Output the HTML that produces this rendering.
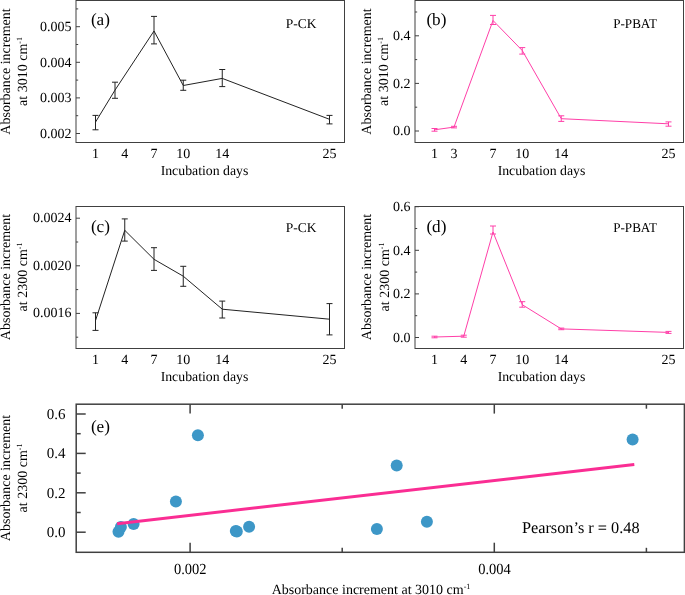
<!DOCTYPE html><html><head><meta charset="utf-8"><style>html,body{margin:0;padding:0;background:#fff;width:685px;height:595px;overflow:hidden}svg{display:block;will-change:transform}text{font-family:"Liberation Serif",serif;fill:#000;text-rendering:geometricPrecision}</style></head><body>
<svg width="685" height="595" viewBox="0 0 685 595">
<rect width="685" height="595" fill="#fff"/>
<rect x="76.00" y="0.50" width="268.50" height="142.00" fill="none" stroke="#404040" stroke-width="1"/>
<line x1="76.00" y1="133.50" x2="80.00" y2="133.50" stroke="#404040" stroke-width="1" />
<text x="71.60" y="137.90" font-size="14" text-anchor="end" >0.002</text>
<line x1="76.00" y1="97.90" x2="80.00" y2="97.90" stroke="#404040" stroke-width="1" />
<text x="71.60" y="102.30" font-size="14" text-anchor="end" >0.003</text>
<line x1="76.00" y1="62.30" x2="80.00" y2="62.30" stroke="#404040" stroke-width="1" />
<text x="71.60" y="66.70" font-size="14" text-anchor="end" >0.004</text>
<line x1="76.00" y1="26.70" x2="80.00" y2="26.70" stroke="#404040" stroke-width="1" />
<text x="71.60" y="31.10" font-size="14" text-anchor="end" >0.005</text>
<line x1="76.00" y1="115.70" x2="78.20" y2="115.70" stroke="#404040" stroke-width="1" />
<line x1="76.00" y1="80.10" x2="78.20" y2="80.10" stroke="#404040" stroke-width="1" />
<line x1="76.00" y1="44.50" x2="78.20" y2="44.50" stroke="#404040" stroke-width="1" />
<line x1="76.00" y1="8.90" x2="78.20" y2="8.90" stroke="#404040" stroke-width="1" />
<text x="95.50" y="158.00" font-size="14" text-anchor="middle" >1</text>
<text x="124.75" y="158.00" font-size="14" text-anchor="middle" >4</text>
<text x="154.00" y="158.00" font-size="14" text-anchor="middle" >7</text>
<text x="183.25" y="158.00" font-size="14" text-anchor="middle" >10</text>
<text x="222.25" y="158.00" font-size="14" text-anchor="middle" >14</text>
<text x="329.50" y="158.00" font-size="14" text-anchor="middle" >25</text>
<polyline points="95.50,122.10 115.00,90.10 154.00,31.00 183.25,85.50 222.25,78.40 329.50,119.30" fill="none" stroke="#222" stroke-width="1"/>
<line x1="95.50" y1="115.40" x2="95.50" y2="129.80" stroke="#222" stroke-width="1" />
<line x1="92.50" y1="115.40" x2="98.50" y2="115.40" stroke="#222" stroke-width="1" />
<line x1="92.50" y1="129.80" x2="98.50" y2="129.80" stroke="#222" stroke-width="1" />
<line x1="115.00" y1="82.20" x2="115.00" y2="98.30" stroke="#222" stroke-width="1" />
<line x1="112.00" y1="82.20" x2="118.00" y2="82.20" stroke="#222" stroke-width="1" />
<line x1="112.00" y1="98.30" x2="118.00" y2="98.30" stroke="#222" stroke-width="1" />
<line x1="154.00" y1="16.40" x2="154.00" y2="43.90" stroke="#222" stroke-width="1" />
<line x1="151.00" y1="16.40" x2="157.00" y2="16.40" stroke="#222" stroke-width="1" />
<line x1="151.00" y1="43.90" x2="157.00" y2="43.90" stroke="#222" stroke-width="1" />
<line x1="183.25" y1="80.20" x2="183.25" y2="90.30" stroke="#222" stroke-width="1" />
<line x1="180.25" y1="80.20" x2="186.25" y2="80.20" stroke="#222" stroke-width="1" />
<line x1="180.25" y1="90.30" x2="186.25" y2="90.30" stroke="#222" stroke-width="1" />
<line x1="222.25" y1="69.50" x2="222.25" y2="86.60" stroke="#222" stroke-width="1" />
<line x1="219.25" y1="69.50" x2="225.25" y2="69.50" stroke="#222" stroke-width="1" />
<line x1="219.25" y1="86.60" x2="225.25" y2="86.60" stroke="#222" stroke-width="1" />
<line x1="329.50" y1="115.40" x2="329.50" y2="123.90" stroke="#222" stroke-width="1" />
<line x1="326.50" y1="115.40" x2="332.50" y2="115.40" stroke="#222" stroke-width="1" />
<line x1="326.50" y1="123.90" x2="332.50" y2="123.90" stroke="#222" stroke-width="1" />
<text x="90.90" y="25.40" font-size="17.2" text-anchor="start" >(a)</text>
<text x="285.80" y="27.60" font-size="13.5" text-anchor="start" >P-CK</text>
<text x="204.50" y="174.50" font-size="13.8" text-anchor="middle" >Incubation days</text>
<text transform="translate(10.20,71.50) rotate(-90)" font-size="14" text-anchor="middle">Absorbance increment</text>
<text transform="translate(27.00,71.50) rotate(-90)" font-size="14" text-anchor="middle">at 3010 cm<tspan font-size="8" dy="-5">-1</tspan></text>
<rect x="415.00" y="0.50" width="268.50" height="142.00" fill="none" stroke="#404040" stroke-width="1"/>
<line x1="415.00" y1="131.00" x2="419.00" y2="131.00" stroke="#404040" stroke-width="1" />
<text x="410.60" y="135.30" font-size="14" text-anchor="end" >0.0</text>
<line x1="415.00" y1="83.40" x2="419.00" y2="83.40" stroke="#404040" stroke-width="1" />
<text x="410.60" y="87.70" font-size="14" text-anchor="end" >0.2</text>
<line x1="415.00" y1="35.80" x2="419.00" y2="35.80" stroke="#404040" stroke-width="1" />
<text x="410.60" y="40.10" font-size="14" text-anchor="end" >0.4</text>
<line x1="415.00" y1="107.20" x2="417.20" y2="107.20" stroke="#404040" stroke-width="1" />
<line x1="415.00" y1="59.60" x2="417.20" y2="59.60" stroke="#404040" stroke-width="1" />
<line x1="415.00" y1="12.00" x2="417.20" y2="12.00" stroke="#404040" stroke-width="1" />
<text x="434.50" y="158.00" font-size="14" text-anchor="middle" >1</text>
<text x="454.00" y="158.00" font-size="14" text-anchor="middle" >3</text>
<text x="493.00" y="158.00" font-size="14" text-anchor="middle" >7</text>
<text x="522.25" y="158.00" font-size="14" text-anchor="middle" >10</text>
<text x="561.25" y="158.00" font-size="14" text-anchor="middle" >14</text>
<text x="668.50" y="158.00" font-size="14" text-anchor="middle" >25</text>
<polyline points="434.50,129.80 454.00,127.10 493.00,20.50 522.25,50.50 561.25,118.70 668.50,123.80" fill="none" stroke="#ff3fa8" stroke-width="1"/>
<line x1="434.50" y1="128.50" x2="434.50" y2="131.20" stroke="#ff3fa8" stroke-width="1" />
<line x1="431.50" y1="128.50" x2="437.50" y2="128.50" stroke="#ff3fa8" stroke-width="1" />
<line x1="431.50" y1="131.20" x2="437.50" y2="131.20" stroke="#ff3fa8" stroke-width="1" />
<line x1="454.00" y1="126.30" x2="454.00" y2="127.90" stroke="#ff3fa8" stroke-width="1" />
<line x1="451.00" y1="126.30" x2="457.00" y2="126.30" stroke="#ff3fa8" stroke-width="1" />
<line x1="451.00" y1="127.90" x2="457.00" y2="127.90" stroke="#ff3fa8" stroke-width="1" />
<line x1="493.00" y1="15.40" x2="493.00" y2="24.50" stroke="#ff3fa8" stroke-width="1" />
<line x1="490.00" y1="15.40" x2="496.00" y2="15.40" stroke="#ff3fa8" stroke-width="1" />
<line x1="490.00" y1="24.50" x2="496.00" y2="24.50" stroke="#ff3fa8" stroke-width="1" />
<line x1="522.25" y1="47.60" x2="522.25" y2="54.10" stroke="#ff3fa8" stroke-width="1" />
<line x1="519.25" y1="47.60" x2="525.25" y2="47.60" stroke="#ff3fa8" stroke-width="1" />
<line x1="519.25" y1="54.10" x2="525.25" y2="54.10" stroke="#ff3fa8" stroke-width="1" />
<line x1="561.25" y1="115.80" x2="561.25" y2="121.40" stroke="#ff3fa8" stroke-width="1" />
<line x1="558.25" y1="115.80" x2="564.25" y2="115.80" stroke="#ff3fa8" stroke-width="1" />
<line x1="558.25" y1="121.40" x2="564.25" y2="121.40" stroke="#ff3fa8" stroke-width="1" />
<line x1="668.50" y1="121.90" x2="668.50" y2="126.20" stroke="#ff3fa8" stroke-width="1" />
<line x1="665.50" y1="121.90" x2="671.50" y2="121.90" stroke="#ff3fa8" stroke-width="1" />
<line x1="665.50" y1="126.20" x2="671.50" y2="126.20" stroke="#ff3fa8" stroke-width="1" />
<text x="426.40" y="25.40" font-size="17.2" text-anchor="start" >(b)</text>
<text x="613.20" y="27.60" font-size="13.5" text-anchor="start" textLength="43.7" lengthAdjust="spacingAndGlyphs">P-PBAT</text>
<text x="541.50" y="174.50" font-size="13.8" text-anchor="middle" >Incubation days</text>
<text transform="translate(370.70,71.50) rotate(-90)" font-size="14" text-anchor="middle">Absorbance increment</text>
<text transform="translate(387.70,71.50) rotate(-90)" font-size="14" text-anchor="middle">at 3010 cm<tspan font-size="8" dy="-5">-1</tspan></text>
<rect x="76.00" y="206.50" width="268.50" height="142.00" fill="none" stroke="#404040" stroke-width="1"/>
<line x1="76.00" y1="313.40" x2="80.00" y2="313.40" stroke="#404040" stroke-width="1" />
<text x="71.60" y="317.20" font-size="14" text-anchor="end" >0.0016</text>
<line x1="76.00" y1="265.80" x2="80.00" y2="265.80" stroke="#404040" stroke-width="1" />
<text x="71.60" y="269.60" font-size="14" text-anchor="end" >0.0020</text>
<line x1="76.00" y1="218.20" x2="80.00" y2="218.20" stroke="#404040" stroke-width="1" />
<text x="71.60" y="222.00" font-size="14" text-anchor="end" >0.0024</text>
<line x1="76.00" y1="337.20" x2="78.20" y2="337.20" stroke="#404040" stroke-width="1" />
<line x1="76.00" y1="289.60" x2="78.20" y2="289.60" stroke="#404040" stroke-width="1" />
<line x1="76.00" y1="242.00" x2="78.20" y2="242.00" stroke="#404040" stroke-width="1" />
<text x="95.50" y="364.00" font-size="14" text-anchor="middle" >1</text>
<text x="124.75" y="364.00" font-size="14" text-anchor="middle" >4</text>
<text x="154.00" y="364.00" font-size="14" text-anchor="middle" >7</text>
<text x="183.25" y="364.00" font-size="14" text-anchor="middle" >10</text>
<text x="222.25" y="364.00" font-size="14" text-anchor="middle" >14</text>
<text x="329.50" y="364.00" font-size="14" text-anchor="middle" >25</text>
<polyline points="95.50,320.60 124.75,230.30 154.00,259.30 183.25,276.20 222.25,309.20 329.50,319.20" fill="none" stroke="#222" stroke-width="1"/>
<line x1="95.50" y1="312.80" x2="95.50" y2="330.40" stroke="#222" stroke-width="1" />
<line x1="92.50" y1="312.80" x2="98.50" y2="312.80" stroke="#222" stroke-width="1" />
<line x1="92.50" y1="330.40" x2="98.50" y2="330.40" stroke="#222" stroke-width="1" />
<line x1="124.75" y1="218.90" x2="124.75" y2="241.10" stroke="#222" stroke-width="1" />
<line x1="121.75" y1="218.90" x2="127.75" y2="218.90" stroke="#222" stroke-width="1" />
<line x1="121.75" y1="241.10" x2="127.75" y2="241.10" stroke="#222" stroke-width="1" />
<line x1="154.00" y1="247.70" x2="154.00" y2="270.40" stroke="#222" stroke-width="1" />
<line x1="151.00" y1="247.70" x2="157.00" y2="247.70" stroke="#222" stroke-width="1" />
<line x1="151.00" y1="270.40" x2="157.00" y2="270.40" stroke="#222" stroke-width="1" />
<line x1="183.25" y1="266.30" x2="183.25" y2="286.30" stroke="#222" stroke-width="1" />
<line x1="180.25" y1="266.30" x2="186.25" y2="266.30" stroke="#222" stroke-width="1" />
<line x1="180.25" y1="286.30" x2="186.25" y2="286.30" stroke="#222" stroke-width="1" />
<line x1="222.25" y1="301.10" x2="222.25" y2="318.00" stroke="#222" stroke-width="1" />
<line x1="219.25" y1="301.10" x2="225.25" y2="301.10" stroke="#222" stroke-width="1" />
<line x1="219.25" y1="318.00" x2="225.25" y2="318.00" stroke="#222" stroke-width="1" />
<line x1="329.50" y1="303.60" x2="329.50" y2="334.90" stroke="#222" stroke-width="1" />
<line x1="326.50" y1="303.60" x2="332.50" y2="303.60" stroke="#222" stroke-width="1" />
<line x1="326.50" y1="334.90" x2="332.50" y2="334.90" stroke="#222" stroke-width="1" />
<text x="90.90" y="231.70" font-size="17.2" text-anchor="start" >(c)</text>
<text x="285.80" y="232.10" font-size="13.5" text-anchor="start" >P-CK</text>
<text x="204.50" y="380.50" font-size="13.8" text-anchor="middle" >Incubation days</text>
<text transform="translate(10.20,277.00) rotate(-90)" font-size="14" text-anchor="middle">Absorbance increment</text>
<text transform="translate(27.00,277.00) rotate(-90)" font-size="14" text-anchor="middle">at 2300 cm<tspan font-size="8" dy="-5">-1</tspan></text>
<rect x="415.00" y="206.50" width="268.50" height="142.00" fill="none" stroke="#404040" stroke-width="1"/>
<line x1="415.00" y1="337.50" x2="419.00" y2="337.50" stroke="#404040" stroke-width="1" />
<text x="410.60" y="341.80" font-size="14" text-anchor="end" >0.0</text>
<line x1="415.00" y1="293.90" x2="419.00" y2="293.90" stroke="#404040" stroke-width="1" />
<text x="410.60" y="298.20" font-size="14" text-anchor="end" >0.2</text>
<line x1="415.00" y1="250.30" x2="419.00" y2="250.30" stroke="#404040" stroke-width="1" />
<text x="410.60" y="254.60" font-size="14" text-anchor="end" >0.4</text>
<line x1="415.00" y1="206.70" x2="419.00" y2="206.70" stroke="#404040" stroke-width="1" />
<text x="410.60" y="211.00" font-size="14" text-anchor="end" >0.6</text>
<line x1="415.00" y1="315.70" x2="417.20" y2="315.70" stroke="#404040" stroke-width="1" />
<line x1="415.00" y1="272.10" x2="417.20" y2="272.10" stroke="#404040" stroke-width="1" />
<line x1="415.00" y1="228.50" x2="417.20" y2="228.50" stroke="#404040" stroke-width="1" />
<text x="434.50" y="364.00" font-size="14" text-anchor="middle" >1</text>
<text x="463.75" y="364.00" font-size="14" text-anchor="middle" >4</text>
<text x="493.00" y="364.00" font-size="14" text-anchor="middle" >7</text>
<text x="522.25" y="364.00" font-size="14" text-anchor="middle" >10</text>
<text x="561.25" y="364.00" font-size="14" text-anchor="middle" >14</text>
<text x="668.50" y="364.00" font-size="14" text-anchor="middle" >25</text>
<polyline points="434.50,337.00 463.75,336.20 493.00,232.00 522.25,304.70 561.25,328.90 668.50,332.40" fill="none" stroke="#ff3fa8" stroke-width="1"/>
<line x1="434.50" y1="336.20" x2="434.50" y2="337.80" stroke="#ff3fa8" stroke-width="1" />
<line x1="431.50" y1="336.20" x2="437.50" y2="336.20" stroke="#ff3fa8" stroke-width="1" />
<line x1="431.50" y1="337.80" x2="437.50" y2="337.80" stroke="#ff3fa8" stroke-width="1" />
<line x1="463.75" y1="335.20" x2="463.75" y2="337.20" stroke="#ff3fa8" stroke-width="1" />
<line x1="460.75" y1="335.20" x2="466.75" y2="335.20" stroke="#ff3fa8" stroke-width="1" />
<line x1="460.75" y1="337.20" x2="466.75" y2="337.20" stroke="#ff3fa8" stroke-width="1" />
<line x1="493.00" y1="226.00" x2="493.00" y2="234.00" stroke="#ff3fa8" stroke-width="1" />
<line x1="490.00" y1="226.00" x2="496.00" y2="226.00" stroke="#ff3fa8" stroke-width="1" />
<line x1="490.00" y1="234.00" x2="496.00" y2="234.00" stroke="#ff3fa8" stroke-width="1" />
<line x1="522.25" y1="301.70" x2="522.25" y2="307.20" stroke="#ff3fa8" stroke-width="1" />
<line x1="519.25" y1="301.70" x2="525.25" y2="301.70" stroke="#ff3fa8" stroke-width="1" />
<line x1="519.25" y1="307.20" x2="525.25" y2="307.20" stroke="#ff3fa8" stroke-width="1" />
<line x1="561.25" y1="328.10" x2="561.25" y2="329.70" stroke="#ff3fa8" stroke-width="1" />
<line x1="558.25" y1="328.10" x2="564.25" y2="328.10" stroke="#ff3fa8" stroke-width="1" />
<line x1="558.25" y1="329.70" x2="564.25" y2="329.70" stroke="#ff3fa8" stroke-width="1" />
<line x1="668.50" y1="331.40" x2="668.50" y2="333.40" stroke="#ff3fa8" stroke-width="1" />
<line x1="665.50" y1="331.40" x2="671.50" y2="331.40" stroke="#ff3fa8" stroke-width="1" />
<line x1="665.50" y1="333.40" x2="671.50" y2="333.40" stroke="#ff3fa8" stroke-width="1" />
<text x="426.40" y="231.70" font-size="17.2" text-anchor="start" >(d)</text>
<text x="613.20" y="232.10" font-size="13.5" text-anchor="start" textLength="43.7" lengthAdjust="spacingAndGlyphs">P-PBAT</text>
<text x="541.50" y="380.50" font-size="13.8" text-anchor="middle" >Incubation days</text>
<text transform="translate(370.60,277.00) rotate(-90)" font-size="14" text-anchor="middle">Absorbance increment</text>
<text transform="translate(388.60,277.00) rotate(-90)" font-size="14" text-anchor="middle">at 2300 cm<tspan font-size="8" dy="-5">-1</tspan></text>
<rect x="76.20" y="404.20" width="608.20" height="148.10" fill="none" stroke="#404040" stroke-width="1.5"/>
<line x1="76.20" y1="532.20" x2="85.70" y2="532.20" stroke="#404040" stroke-width="1.5" />
<text x="65.60" y="537.10" font-size="15" text-anchor="end" >0.0</text>
<line x1="76.20" y1="492.80" x2="85.70" y2="492.80" stroke="#404040" stroke-width="1.5" />
<text x="65.60" y="497.70" font-size="15" text-anchor="end" >0.2</text>
<line x1="76.20" y1="453.40" x2="85.70" y2="453.40" stroke="#404040" stroke-width="1.5" />
<text x="65.60" y="458.30" font-size="15" text-anchor="end" >0.4</text>
<line x1="76.20" y1="414.00" x2="85.70" y2="414.00" stroke="#404040" stroke-width="1.5" />
<text x="65.60" y="418.90" font-size="15" text-anchor="end" >0.6</text>
<line x1="76.20" y1="512.50" x2="80.70" y2="512.50" stroke="#404040" stroke-width="1.5" />
<line x1="76.20" y1="473.10" x2="80.70" y2="473.10" stroke="#404040" stroke-width="1.5" />
<line x1="76.20" y1="433.70" x2="80.70" y2="433.70" stroke="#404040" stroke-width="1.5" />
<line x1="190.10" y1="552.30" x2="190.10" y2="542.70" stroke="#404040" stroke-width="1.5" />
<line x1="190.10" y1="404.20" x2="190.10" y2="413.60" stroke="#404040" stroke-width="1.5" />
<text x="190.30" y="573.90" font-size="15.4" text-anchor="middle" textLength="32.6" lengthAdjust="spacingAndGlyphs">0.002</text>
<line x1="494.30" y1="552.30" x2="494.30" y2="542.70" stroke="#404040" stroke-width="1.5" />
<line x1="494.30" y1="404.20" x2="494.30" y2="413.60" stroke="#404040" stroke-width="1.5" />
<text x="494.50" y="573.90" font-size="15.4" text-anchor="middle" textLength="32.6" lengthAdjust="spacingAndGlyphs">0.004</text>
<line x1="342.20" y1="552.30" x2="342.20" y2="547.80" stroke="#404040" stroke-width="1.5" />
<line x1="342.20" y1="404.20" x2="342.20" y2="408.70" stroke="#404040" stroke-width="1.5" />
<line x1="646.40" y1="552.30" x2="646.40" y2="547.80" stroke="#404040" stroke-width="1.5" />
<line x1="646.40" y1="404.20" x2="646.40" y2="408.70" stroke="#404040" stroke-width="1.5" />
<circle cx="118.5" cy="531.7" r="6" fill="#3d97c7"/>
<circle cx="120.9" cy="527.1" r="6" fill="#3d97c7"/>
<circle cx="133.6" cy="523.9" r="6" fill="#3d97c7"/>
<circle cx="175.9" cy="501.6" r="6" fill="#3d97c7"/>
<circle cx="197.9" cy="435.2" r="6" fill="#3d97c7"/>
<circle cx="235.8" cy="530.9" r="6" fill="#3d97c7"/>
<circle cx="236.8" cy="531.5" r="6" fill="#3d97c7"/>
<circle cx="249.1" cy="526.7" r="6" fill="#3d97c7"/>
<circle cx="376.9" cy="528.9" r="6" fill="#3d97c7"/>
<circle cx="396.7" cy="465.4" r="6" fill="#3d97c7"/>
<circle cx="426.9" cy="521.8" r="6" fill="#3d97c7"/>
<circle cx="632.6" cy="439.5" r="6" fill="#3d97c7"/>
<line x1="117.10" y1="523.70" x2="634.30" y2="464.50" stroke="#fa2d93" stroke-width="3" />
<text x="90.90" y="431.70" font-size="17.2" text-anchor="start" >(e)</text>
<text x="521.90" y="533.20" font-size="16.3" text-anchor="start" >Pearson’s r = 0.48</text>
<text transform="translate(10.30,478.00) rotate(-90)" font-size="14" text-anchor="middle">Absorbance increment</text>
<text transform="translate(27.30,478.00) rotate(-90)" font-size="14" text-anchor="middle">at 2300 cm<tspan font-size="8" dy="-5">-1</tspan></text>
<text x="371.00" y="594.20" font-size="14" text-anchor="middle" >Absorbance increment at 3010 cm<tspan font-size="8" dy="-5">-1</tspan></text>
</svg></body></html>
